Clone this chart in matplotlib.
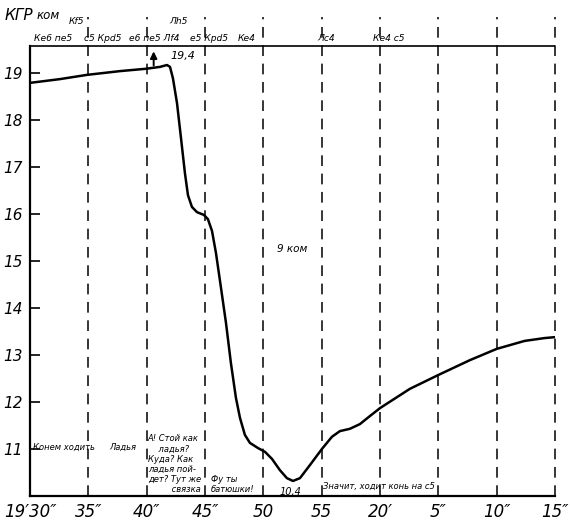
import matplotlib
matplotlib.use("Agg")
import matplotlib.pyplot as plt

# time in seconds after 19'30", skin resistance in kOhm
t = [0, 2.57, 4.88, 7.71, 9.94, 11.14, 11.74, 12.0, 12.25, 12.6, 12.94, 13.28,
     13.54, 13.88, 14.31, 14.91, 15.25, 15.6, 15.94, 16.37, 16.8, 17.22, 17.65,
     18.0, 18.42, 18.85, 19.54, 20.14, 20.74, 21.42, 22.02, 22.54, 23.14, 24.0,
     25.02, 25.88, 26.56, 27.42, 28.28, 29.13, 30.0, 32.56, 34.96, 37.7, 40.0,
     42.4, 44.1, 45]
kgr = [18.79, 18.87, 18.96, 19.04, 19.09, 19.13, 19.17, 19.13, 18.89, 18.36,
       17.62, 16.87, 16.40, 16.15, 16.04, 15.98, 15.89, 15.64, 15.17, 14.43,
       13.68, 12.83, 12.09, 11.66, 11.30, 11.13, 11.02, 10.94, 10.79, 10.55,
       10.38, 10.32, 10.38, 10.66, 11.0, 11.26, 11.38, 11.43, 11.53, 11.70,
       11.87, 12.28, 12.57, 12.89, 13.13, 13.3, 13.36, 13.38]

xticks = [0, 5, 10, 15, 20, 25, 30, 35, 40, 45]
xlabels = ["19′30″", "35″", "40″", "45″", "50", "55", "20′", "5″", "10″", "15″"]
yticks = [11, 12, 13, 14, 15, 16, 17, 18, 19]

# moves written above the top line: (time, text)
moves = [(0.3, "Ке6 пе5"), (4.6, "с5 Крd5"), (8.5, "е6 пе5 Лf4"),
         (13.7, "е5 Крd5"), (17.8, "Ке4"), (24.6, "Лс4"), (29.4, "Ке4 с5")]
moves_hi = [(3.3, "Кf5"), (11.9, "Лh5")]

# spoken remarks near the bottom: (time, value, text)
remarks = [(0.25, 10.93, "Конем ходить"), (6.8, 10.93, "Ладья"),
           (10.1, 10.05, "А! Стой как\n    ладья?\nКуда? Как\nладья пой-\nдет? Тут же\n         связка"),
           (15.5, 10.05, "Фу ты\nбатюшки!"),
           (25.1, 10.1, "Значит, ходит конь на с5")]

TOP = 19.57

fig = plt.figure(figsize=(5.7, 5.27), dpi=100)
ax = fig.add_axes([30 / 570, 31 / 527, 525 / 570, 481 / 527])
ax.set_xlim(0, 45)
ax.set_ylim(10, 10 + 481 / 47)

for s in ["top", "right"]:
    ax.spines[s].set_visible(False)
ax.spines["left"].set_bounds(10, TOP)
ax.spines["left"].set_linewidth(1.6)
ax.spines["bottom"].set_linewidth(1.6)
ax.axhline(TOP, color="black", lw=1.2)

for x in xticks[1:]:
    ax.plot([x, x], [10, 20.2], color="black", lw=1.1, ls=(0, (7, 5)),
            clip_on=False)

ax.plot(t, kgr, color="black", lw=1.8, solid_joinstyle="round")
ax.annotate("", xy=(10.6, 19.52), xytext=(10.6, 19.1),
            arrowprops=dict(arrowstyle="-|>", color="black", lw=1.4))

ax.set_xticks(xticks)
ax.set_xticklabels(xlabels, fontsize=12, style="italic")
ax.set_yticks(yticks)
ax.set_yticklabels([str(v) for v in yticks], fontsize=11, style="italic")
ax.tick_params(axis="x", length=0, pad=5)
ax.tick_params(axis="y", direction="in", length=7, width=1.2, pad=5)

for x, s in moves:
    ax.text(x, TOP + 0.06, s, fontsize=6.6, style="italic", ha="left",
            va="bottom")
for x, s in moves_hi:
    ax.text(x, TOP + 0.42, s, fontsize=6.6, style="italic", ha="left",
            va="bottom")

ax.text(12.0, 19.3, "19,4", fontsize=8, style="italic")
ax.text(22.3, 10.03, "10,4", fontsize=7, style="italic", ha="center")
ax.text(21.2, 15.2, "9 ком", fontsize=7.5, style="italic")

for x, y, s in remarks:
    ax.text(x, y, s, fontsize=6, style="italic", ha="left", va="bottom",
            linespacing=1.15)

fig.text(0.008, 0.985, "КГР", fontsize=11, style="italic", va="top")
fig.text(0.064, 0.982, "ком", fontsize=8.5, style="italic", va="top")

fig.savefig("out.png", dpi=100)
